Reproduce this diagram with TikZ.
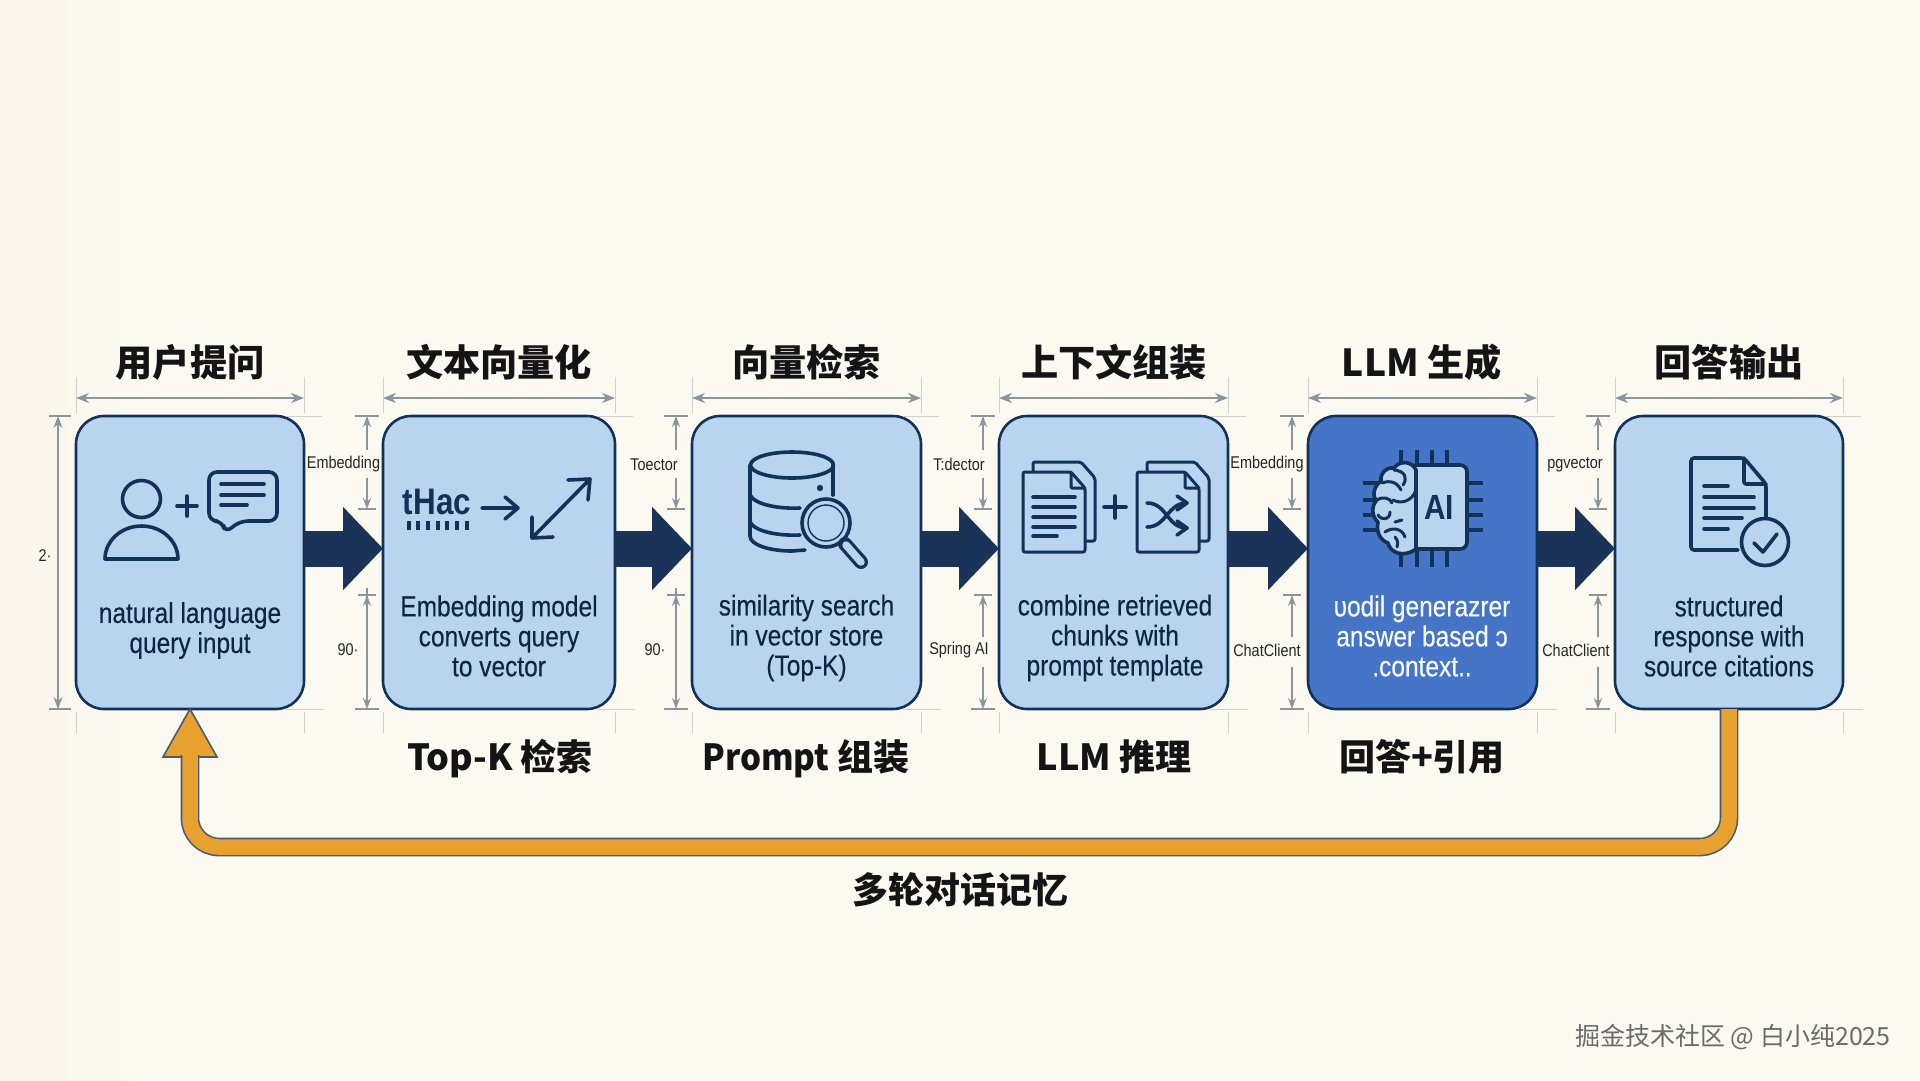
\documentclass[tikz,border=0pt]{standalone}
\usepackage{fontspec}
\setmainfont{Liberation Sans}[FakeStretch=0.85]
\newfontfamily\cjk{Noto Sans CJK SC}
\usetikzlibrary{arrows.meta,calc}
\definecolor{bgc}{HTML}{FBF9F0}
\definecolor{bgl}{HTML}{FBF6EB}
\definecolor{boxc}{HTML}{B9D4EE}
\definecolor{boxd}{HTML}{4674C6}
\definecolor{navy}{HTML}{1C3359}
\definecolor{edgec}{HTML}{13325A}
\definecolor{inkc}{HTML}{0E2544}
\definecolor{orangec}{HTML}{E8A02F}
\definecolor{fbedge}{HTML}{4C5B6B}
\definecolor{dimc}{HTML}{8E949B}
\definecolor{extc}{HTML}{D2D1CA}
\tikzset{
  card/.style={draw=edgec,line width=2.6pt,fill=boxc,rounded corners=28pt,inner sep=0pt,outer sep=0pt,minimum height=293pt},
  carddark/.style={card,fill=boxd},
  titletxt/.style={font=\fontsize{37.2}{40}\selectfont\cjk\bfseries,text=black!92,inner sep=0pt},
  subtxt/.style={font=\fontsize{36}{40}\selectfont\cjk\bfseries,text=black!92,inner sep=0pt},
  bodytxt/.style={font=\fontsize{28.8}{30}\selectfont\addfontfeature{FakeBold=0.3},text=inkc,align=center,inner sep=0pt},
  smalltxt/.style={font=\fontsize{17}{18}\selectfont,text=black!85,inner sep=0pt},
  flow/.style={draw=navy,line width=36pt,-{Triangle[length=40pt,width=81pt]}},
  ext/.style={draw=extc,line width=1pt},
  dimh/.style={draw=dimc,line width=1.6pt,{Stealth[length=13pt,width=10pt]}-{Stealth[length=13pt,width=10pt]}},
  dimv/.style={draw=dimc,line width=1.3pt},
  tipped/.style={dimv,-{Stealth[length=11pt,width=8pt]}},
  tick/.style={draw=dimc,line width=1.2pt},
  icon/.style={draw=edgec,line width=3.6pt,line cap=round,line join=round},
  thinicon/.style={icon,line width=3pt},
  feedline/.style={draw=fbedge,line width=1.6pt,double=orangec,double distance=15.5pt,rounded corners=29pt},
  feedhead/.style={draw=fbedge,line width=1.6pt,fill=orangec,line join=miter}
}
\newcommand{\gapdim}[8]{% id, line x, top label x, text, low label x, text, break top, break bottom
  \coordinate (gt#1) at (#2,416);
  \coordinate (gm#1) at (#2,509);
  \coordinate (gl#1) at (#2,595);
  \coordinate (gb#1) at (#2,709);
  \node[smalltxt] (lu#1) at (#3,464.5) {#4};
  \node[smalltxt] (ll#1) at (#5,650) {#6};
  \draw[tipped] (#2,450) -- (gt#1);
  \draw[tipped] (#2,478) -- (gm#1);
  \draw[tick] ($(gm#1)+(-9,0)$) -- ($(gm#1)+(9,0)$);
  \draw[tick] ($(gl#1)+(-9,0)$) -- ($(gl#1)+(9,0)$);
  \draw[tick] ($(gt#1)+(-12,0)$) -- ($(gt#1)+(12,0)$);
  \draw[tick] ($(gb#1)+(-12,0)$) -- ($(gb#1)+(12,0)$);
  \draw[tipped] (#2,#7) -- (gl#1);
  \draw[tipped] (#2,#8) -- (gb#1);
}
\begin{document}
\begin{tikzpicture}[x=1pt,y=-1pt]
\useasboundingbox (0,0) rectangle (1920,1080);
\fill[bgc] (0,0) rectangle (1920,1080);
\fill[left color=bgl,right color=bgc,draw=none] (0,0) rectangle (130,1080);

% cards
\node[card,minimum width=228pt] (b1) at (190,562.5) {};
\node[card,minimum width=232pt] (b2) at (499,562.5) {};
\node[card,minimum width=229pt] (b3) at (806.5,562.5) {};
\node[card,minimum width=229pt] (b4) at (1113.5,562.5) {};
\node[carddark,minimum width=229pt] (b5) at (1422.5,562.5) {};
\node[card,minimum width=228pt] (b6) at (1729,562.5) {};

% construction lines and width dimensions
\foreach \b in {b1,b2,b3,b4,b5,b6}{
  \draw[ext] ($(\b.north west)+(0,-3)$) -- ($(\b.north west)+(0,-39)$);
  \draw[ext] ($(\b.north east)+(0,-3)$) -- ($(\b.north east)+(0,-39)$);
  \draw[ext] ($(\b.south west)+(0,3)$) -- ($(\b.south west)+(0,24)$);
  \draw[ext] ($(\b.south east)+(0,3)$) -- ($(\b.south east)+(0,24)$);
  \draw[ext] ($(\b.north east)+(-18,0)$) -- ($(\b.north east)+(18,0)$);
  \draw[ext] ($(\b.south east)+(-18,0)$) -- ($(\b.south east)+(20,0)$);
  \draw[dimh] ($(\b.north west)+(0,-18)$) -- ($(\b.north east)+(0,-18)$);
}

% left overall dimension
\coordinate (ht) at (58,416);
\coordinate (hb) at (58,709);
\draw[dimv,{Stealth[length=12pt,width=9pt]}-{Stealth[length=12pt,width=9pt]}] (ht) -- (hb);
\draw[tick] (49,416) -- (71,416);
\draw[tick] (49,709) -- (71,709);
\node[smalltxt] (h2) at (45,556) {2·};

% gap dimensions
\gapdim{1}{367}{343.5}{Embedding}{348}{90·}{595}{595}
\gapdim{2}{676}{654}{Toector}{655}{90·}{595}{595}
\gapdim{3}{983}{959}{T:dector}{959}{Spring AI}{637}{667}
\gapdim{4}{1292}{1267}{Embedding}{1267}{ChatClient}{637}{667}
\gapdim{5}{1598}{1575}{pgvector}{1576}{ChatClient}{637}{667}

% flow arrows
\coordinate (ay) at (0,548.5);
\draw[flow] (b1.east |- ay) -- (b2.west |- ay);
\draw[flow] (b2.east |- ay) -- (b3.west |- ay);
\draw[flow] (b3.east |- ay) -- (b4.west |- ay);
\draw[flow] (b4.east |- ay) -- (b5.west |- ay);
\draw[flow] (b5.east |- ay) -- (b6.west |- ay);

% titles
\node[titletxt] (t1) at (190,362.5) {用户提问};
\node[titletxt] (t2) at (499,362.5) {文本向量化};
\node[titletxt] (t3) at (806.5,362.5) {向量检索};
\node[titletxt] (t4) at (1114,362.5) {上下文组装};
\node[titletxt] (t5) at (1422,362.5) {LLM 生成};
\node[titletxt] (t6) at (1729,362.5) {回答输出};
\node[subtxt] (s2) at (500,759) {Top-K 检索};
\node[subtxt] (s3) at (806,759) {{\addfontfeature{FakeStretch=0.92}Prompt} 组装};
\node[subtxt] (s4) at (1114,757) {LLM 推理};
\node[subtxt] (s5) at (1422,757) {回答+引用};
\node[subtxt] (fbl) at (960,890) {多轮对话记忆};

% body texts
\node[bodytxt] (d1) at (190,630.5) {natural language\\query input};
\node[bodytxt] (d2) at (499,636) {Embedding model\\converts query\\to vector};
\node[bodytxt] (d3) at (806.5,638) {similarity search\\in vector store\\(Top-K)};
\node[bodytxt] (d4) at (1115,638) {combine retrieved\\chunks with\\prompt template};
\node[bodytxt,text=white!92!boxc] (d5) at (1422,636) {υodil generazrer\\answer based ɔ\\.context..};
\node[bodytxt] (d6) at (1729,636) {structured\\response with\\source citations};

% feedback arrow
\coordinate (fby) at (0,847);
\coordinate (hby) at (0,755);
\draw[feedhead] (b1.south) -- (217,757) -- (163,757) -- cycle;
\draw[feedline] (b6.south) -- (b6.south |- fby) -- (b1.south |- fby) -- (b1.south |- hby);

% watermark
\node[font=\fontsize{25}{28}\selectfont\cjk,text=black!58,inner sep=0pt] (wm) at (1733,1037) {掘金技术社区 @ 白小纯2025};

% icon 1: person + chat
\draw[icon] (141.5,499) ellipse [x radius=19,y radius=18.5];
\draw[icon] (105,559) arc [start angle=180,end angle=360,x radius=36.5,y radius=33] -- cycle;
\draw[icon] (177,506) -- (197,506) (187,496) -- (187,516);
\draw[icon,rounded corners=8pt] (209,472) -- (277,472) -- (277,521) -- (240,521) -- (225,533) -- (222.5,521) -- (209,521) -- cycle;
\draw[icon] (221,484) -- (264,484) (221,495) -- (264,495) (221,505) -- (247,505);

% icon 2: garbled word -> vector
\node[font=\fontsize{37}{38}\selectfont\bfseries,text=edgec,inner sep=0pt] (tw) at (437,502) {tHac};
\foreach \xx in {409,418,428,438,447,457,467}{\draw[icon,line cap=butt] (\xx,521) -- (\xx,530);}
\draw[icon] (482,508) -- (518,508) (505,497) -- (518,508) -- (505,519);
\draw[icon] (532,538) -- (590,479) (568,480) -- (590,479) -- (588,500) (532,517) -- (532,538) -- (553,537);

% icon 3: database + magnifier
\draw[icon] (750,465) -- (750,536) .. controls (750,545) and (770,551) .. (792,551) -- (805,550);
\draw[icon] (833,465) -- (833,495);
\draw[icon] (792,465) ellipse [x radius=41.5,y radius=13];
\draw[icon] (750,495) .. controls (755,505) and (780,509) .. (800,508);
\draw[icon] (750,522) .. controls (755,532) and (780,536) .. (800,535);
\fill[edgec] (820,488) circle (3.2);
\draw[icon,fill=boxc] (826,523) ellipse [x radius=24,y radius=24];
\draw[draw=edgec,line width=1.4pt] (826,523) circle (18);
\draw[draw=edgec,line width=14pt,line cap=round] (845,544) -- (861,562);
\draw[draw=boxc,line width=7.5pt,line cap=round] (846,545) -- (861,562);

% icon 4: documents + shuffle
\foreach \ox in {0,114}{
  \begin{scope}[xshift=\ox pt]
  \draw[thinicon,fill=boxc,rounded corners=2pt] (1033,462) -- (1081,462) -- (1095,478) -- (1095,541) -- (1033,541) -- cycle;
  \draw[thinicon,fill=boxc,rounded corners=2pt] (1023,472) -- (1071,472) -- (1085,488) -- (1085,552) -- (1023,552) -- cycle;
  \draw[thinicon,rounded corners=1pt] (1071,472) -- (1071,488) -- (1085,488);
  \end{scope}
}
\draw[icon] (1033,497) -- (1075,497) (1033,507) -- (1075,507) (1033,517) -- (1075,517) (1033,527) -- (1075,527) (1033,536) -- (1057,536);
\draw[icon] (1104,507) -- (1126,507) (1115,496) -- (1115,518);
\draw[icon] (1147,503) .. controls (1167,503) and (1167,528) .. (1187,528);
\draw[icon] (1147,527) .. controls (1167,527) and (1167,503) .. (1187,503);
\draw[icon] (1177,496) -- (1187,503) -- (1177,510) (1177,521) -- (1187,528) -- (1177,535);

% icon 5: brain + chip
\foreach \xx in {1401,1417,1432,1447}{\draw[icon,line cap=butt] (\xx,450) -- (\xx,567);}
\foreach \yy in {483,500,515,530}{\draw[icon,line cap=butt] (1363,\yy) -- (1483,\yy);}
\draw[icon,fill=boxc,rounded corners=7pt] (1410,465) -- (1467,465) -- (1467,549) -- (1410,549) -- cycle;
\draw[icon,fill=boxc] (1416,470) .. controls (1412,461) and (1400,460) .. (1394,468) .. controls (1386,467) and (1380,473) .. (1381,481) .. controls (1374,486) and (1372,495) .. (1376,501) .. controls (1371,507) and (1372,517) .. (1378,522) .. controls (1376,532) and (1380,540) .. (1388,543) .. controls (1390,553) and (1404,558) .. (1416,549) -- cycle;
\draw[thinicon] (1394,470) .. controls (1405,471) and (1408,478) .. (1403,485);
\draw[thinicon] (1382,483) .. controls (1390,480) and (1397,482) .. (1401,490);
\draw[thinicon] (1393,500) .. controls (1400,504) and (1412,502) .. (1416,490);
\draw[thinicon] (1377,500) .. controls (1383,496) and (1390,498) .. (1392,503);
\draw[thinicon] (1378,515) .. controls (1382,521) and (1390,520) .. (1390,512);
\draw[thinicon] (1395,522) -- (1402,520);
\draw[thinicon] (1385,532) .. controls (1392,527) and (1402,528) .. (1405,537);
\draw[thinicon] (1395,537) .. controls (1398,540) and (1398,544) .. (1397,547);
\node[font=\fontsize{35}{36}\selectfont\bfseries,text=edgec,inner sep=0pt] (ai) at (1439,507.5) {AI};

% icon 6: document + check
\draw[icon,rounded corners=3pt] (1738,550) -- (1691,550) -- (1691,458) -- (1744,458) -- (1766,484) -- (1766,525);
\draw[icon,rounded corners=2pt] (1744,458) -- (1744,484) -- (1766,484);
\draw[icon] (1704,486) -- (1728,486) (1704,497) -- (1754,497) (1704,508) -- (1754,508) (1704,518) -- (1742,518) (1704,529) -- (1728,529);
\draw[icon,fill=boxc] (1765,542) circle (23.5);
\draw[icon] (1754,543) -- (1763,552) -- (1777,534);
\end{tikzpicture}
\end{document}
